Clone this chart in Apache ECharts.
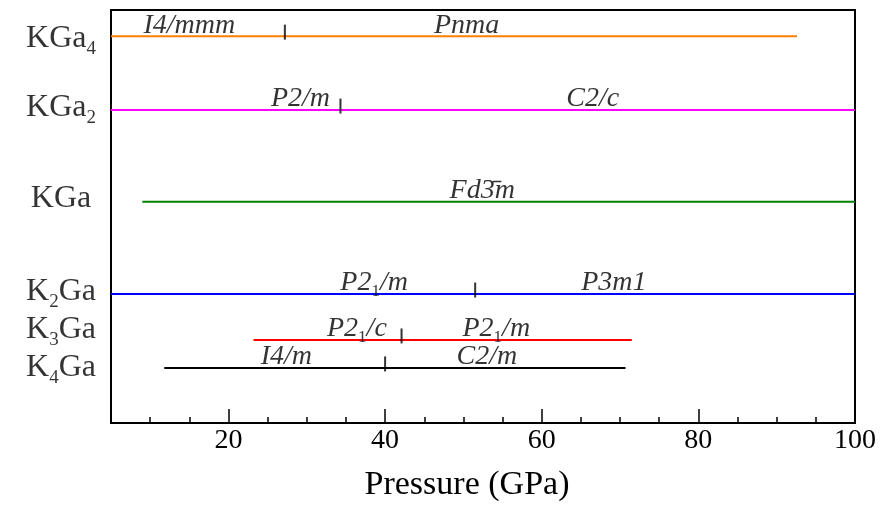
<!DOCTYPE html>
<html>
<head>
<meta charset="utf-8">
<script src="https://cdn.jsdelivr.net/npm/echarts@6/dist/echarts.min.js"></script>
<style>
  html, body { margin: 0; padding: 0; background: #fff; }
  #chart { width: 892px; height: 509px; }
</style>
</head>
<body>
<div id="chart"></div>
<script>
// compounds, top to bottom ("_n" marks a subscript)
const compounds = ['KGa_4', 'KGa_2', 'KGa', 'K_2Ga', 'K_3Ga', 'K_4Ga'];
const lineLevel = [8.43, 6.82, 4.82, 2.81, 1.81, 1.20];
const labelLevel = [8.21, 6.69, 4.72, 2.70, 1.87, 1.04];

// pressure range (GPa) covered by each compound and its transition pressure
const rangeStart = [5, 5, 9.0, 5, 23.2, 11.8];
const rangeEnd = [92.6, 100, 100, 100, 71.5, 70.7];
const transitionP = [27.2, 34.3, null, 51.5, 42.1, 40.0];

// space group names and where they are written
const phaseNames = [
  ['I4/mmm', 'Pnma'],
  ['P2/m', 'C2/c'],
  ['Fd3\u0304m'],
  ['P2_1/m', 'P3m1'],
  ['P2_1/c', 'P2_1/m'],
  ['I4/m', 'C2/m']
];
const phaseLabelP = [
  [15.0, 50.4],
  [29.2, 66.5],
  [52.4],
  [38.6, 69.2],
  [36.4, 54.2],
  [27.4, 53.0]
];

const xTicks = [20, 40, 60, 80, 100];
const lineColors = ['#ff8000', '#ff00ff', '#008000', '#0000ff', '#ff0000', '#000000'];

const FONT = 'Liberation Serif';

function toRich(str, main, sub) {
  const parts = str.split(/_(\w)/);
  return parts.map((p, i) => {
    if (!p) return '';
    return '{' + (i % 2 ? sub : main) + '|' + p + '}';
  }).join('');
}

const series = [];

compounds.forEach((c, i) => {
  series.push({
    type: 'line',
    data: [[rangeStart[i], lineLevel[i]], [rangeEnd[i], lineLevel[i]]],
    showSymbol: false,
    symbol: 'none',
    silent: true,
    lineStyle: { color: lineColors[i], width: 2 },
    z: 2
  });
});

series.push({
  type: 'scatter',
  data: transitionP
    .map((p, i) => (p == null ? null : [p, lineLevel[i]]))
    .filter(Boolean),
  symbol: 'rect',
  symbolSize: [2, 15],
  symbolOffset: [0, -4],
  itemStyle: { color: '#000' },
  silent: true,
  z: 5
});

const phaseData = [];
phaseNames.forEach((names, i) => {
  names.forEach((n, j) => {
    phaseData.push([phaseLabelP[i][j], lineLevel[i], n]);
  });
});

series.push({
  type: 'scatter',
  data: phaseData,
  symbolSize: 0,
  itemStyle: { color: 'rgba(0,0,0,0)' },
  silent: true,
  label: {
    show: true,
    position: [0, -25],
    align: 'center',
    verticalAlign: 'top',
    color: '#000',
    formatter: (p) => toRich(p.data[2], 'i', 's'),
    rich: {
      i: { fontFamily: FONT, fontStyle: 'italic', fontSize: 28, lineHeight: 28, verticalAlign: 'top', color: '#000' },
      s: { fontFamily: FONT, fontSize: 17, lineHeight: 17, padding: [14, 0, 0, 0], verticalAlign: 'top', color: '#000' }
    }
  },
  z: 6
});

series.push({
  type: 'scatter',
  data: compounds.map((c, i) => [5, labelLevel[i], c]),
  symbolSize: 0,
  itemStyle: { color: 'rgba(0,0,0,0)' },
  silent: true,
  label: {
    show: true,
    position: [-50, -24],
    align: 'center',
    verticalAlign: 'top',
    color: '#000',
    formatter: (p) => toRich(p.data[2], 'r', 's'),
    rich: {
      r: { fontFamily: FONT, fontSize: 32, lineHeight: 32, verticalAlign: 'top', color: '#000' },
      s: { fontFamily: FONT, fontSize: 19, lineHeight: 19, padding: [17, 0, 0, 0], verticalAlign: 'top', color: '#000' }
    }
  },
  z: 6
});

const chart = echarts.init(document.getElementById('chart'), null, { renderer: 'canvas' });
chart.setOption({
  animation: false,
  backgroundColor: '#fff',
  grid: {
    left: 111, right: 37, top: 10, bottom: 86,
    show: true, borderColor: '#000', borderWidth: 2, backgroundColor: 'transparent'
  },
  xAxis: [
    {
      type: 'value',
      min: 5,
      max: 100,
      position: 'bottom',
      name: 'Pressure (GPa)',
      nameLocation: 'middle',
      nameGap: 45,
      nameTextStyle: { fontFamily: FONT, fontSize: 34, color: '#000', padding: [0, 32, 0, 0] },
      axisLine: { show: false },
      axisTick: { show: true, inside: true, length: 14, customValues: xTicks, lineStyle: { color: '#000', width: 1.5 } },
      axisLabel: { customValues: xTicks, fontFamily: FONT, fontSize: 28, color: '#000', margin: 4 },
      splitLine: { show: false }
    },
    {
      type: 'value',
      min: 5,
      max: 100,
      interval: 5,
      position: 'bottom',
      axisLine: { show: false },
      axisTick: { show: true, inside: true, length: 6, lineStyle: { color: '#000', width: 1.5 } },
      axisLabel: { show: false },
      splitLine: { show: false }
    }
  ],
  yAxis: {
    type: 'value',
    min: 0,
    max: 9,
    show: false,
    splitLine: { show: false }
  },
  series: series
});
</script>
</body>
</html>
